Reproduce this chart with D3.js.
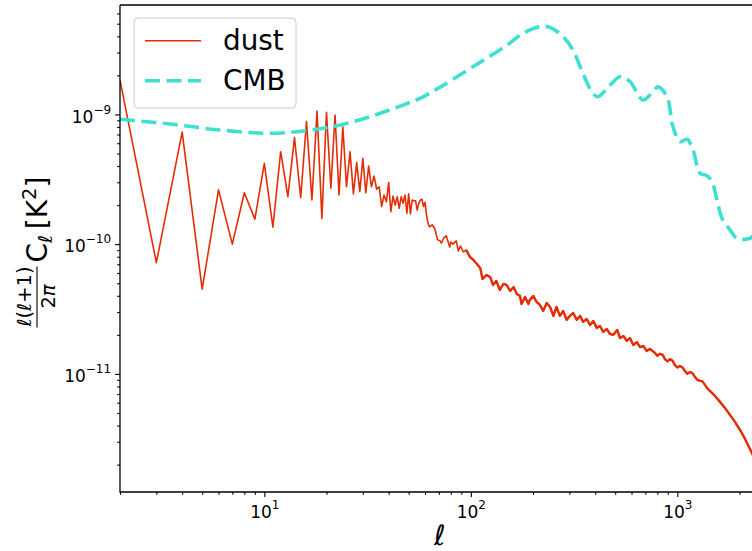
<!DOCTYPE html>
<html><head><meta charset="utf-8">
<script src="https://cdn.jsdelivr.net/npm/d3@7"></script>
<style>
body{margin:0;background:#fff;}
svg{display:block;font-family:"DejaVu Sans",sans-serif;}
</style></head>
<body><svg id="c" width="752" height="551"></svg>
<script>
// ---------- data ----------
const dustEll = [
  2,3,4,5,6,7,8,9,10,11,12,13,14,15,16,17,18,19,20,
  21,22,23,24,25,26,27,28,29,30,31,32,33,34,35,36,37,38,39,40,
  41,42,43,44,45,46,47,48,49,50,51,52,53,54,55,56,57,58,59,60,
  61,62,63,65,67,69,71,72,74,76,79,80,82,85,87,89,92,95,99,
  103,107,111,114,119,124,128,133,138,144,149,155,161,167,173,176,183,190,193,
  201,208,216,224,233,242,251,260,270,280,291,302,313,326,338,350,364,378,392,
  407,422,438,455,472,490,512,528,548,569,590,612,636,660,684,711,737,
  780,800,824,850,871,895,921,945,974,1000,1030,1060,1089,1120,1151,1185,1218,
  1250,1288,1320,1361,1400,1439,1522,1609,1701,1799,1902,2011,2126,2248,2377
];
const dustPower = [
  1.84e-9,7.2e-11,7.3e-10,4.5e-11,2.62e-10,1.0e-10,2.49e-10,1.56e-10,4.2e-10,1.35e-10,5.16e-10,2.32e-10,6.62e-10,2.28e-10,8.8e-10,2.19e-10,1.06e-9,1.58e-10,1.04e-9,
  2.7e-10,9.9e-10,2.39e-10,8.0e-10,2.77e-10,5.16e-10,2.44e-10,4.25e-10,2.54e-10,4.59e-10,2.49e-10,4.0e-10,2.77e-10,3.35e-10,2.65e-10,2.77e-10,1.95e-10,2.39e-10,2.12e-10,2.98e-10,
  1.78e-10,2.35e-10,2.0e-10,2.32e-10,1.89e-10,2.32e-10,2.07e-10,2.39e-10,1.73e-10,2.44e-10,1.71e-10,2.19e-10,2.16e-10,2.16e-10,1.83e-10,2.07e-10,2.19e-10,2.22e-10,1.95e-10,2.1e-10,
  1.68e-10,1.46e-10,1.36e-10,1.41e-10,1.31e-10,1.08e-10,1.06e-10,1.02e-10,1.12e-10,1.16e-10,9.5e-11,1.04e-10,1.0e-10,1.06e-10,8.86e-11,9.68e-11,8.71e-11,9.02e-11,7.97e-11,
  7.55e-11,7.04e-11,6.56e-11,5.39e-11,5.79e-11,5.59e-11,4.85e-11,5.21e-11,4.44e-11,4.94e-11,4.85e-11,4.36e-11,4.68e-11,4.13e-11,3.99e-11,3.46e-11,3.92e-11,3.46e-11,3.72e-11,
  3.99e-11,3.59e-11,3.40e-11,3.06e-11,3.52e-11,3.28e-11,2.80e-11,3.28e-11,2.80e-11,3.06e-11,2.61e-11,2.80e-11,2.95e-11,2.61e-11,2.80e-11,2.52e-11,2.65e-11,2.38e-11,2.56e-11,
  2.26e-11,2.34e-11,2.11e-11,2.22e-11,2.03e-11,2.00e-11,2.18e-11,1.89e-11,1.96e-11,1.80e-11,1.89e-11,1.67e-11,1.76e-11,1.61e-11,1.64e-11,1.50e-11,1.56e-11,
  1.45e-11,1.38e-11,1.43e-11,1.40e-11,1.30e-11,1.25e-11,1.30e-11,1.27e-11,1.17e-11,1.12e-11,1.15e-11,1.12e-11,1.05e-11,1.00e-11,1.036e-11,1.01e-11,9.48e-12,
  9.0e-12,8.83e-12,8.8e-12,8.23e-12,7.7e-12,7.40e-12,6.77e-12,6.09e-12,5.47e-12,4.83e-12,4.27e-12,3.70e-12,3.16e-12,2.64e-12,2.18e-12
];
const cmbEll = [2,3.49,6.10,10.65,15.39,22.48,32.5,46.9,56.7,70.9,102.4,149.7,178.9,216.2,241.7,279.5,312.4,349.2,390.5,412.9,
  472,527.8,589.8,682,762.3,806,891,952.8,1030,1114,1191,1288,1392,1472,1556,1646,1799,1945,2248,2377];
const cmbPower = [9.17e-10,8.44e-10,7.58e-10,7.15e-10,7.45e-10,8.18e-10,9.60e-10,1.18e-9,1.33e-9,1.62e-9,2.33e-9,3.42e-9,4.21e-9,4.74e-9,4.69e-9,3.97e-9,3.13e-9,2.07e-9,1.45e-9,1.37e-9,
  1.68e-9,1.95e-9,1.79e-9,1.29e-9,1.50e-9,1.63e-9,1.37e-9,8.04e-10,6.16e-10,6.43e-10,5.32e-10,3.52e-10,3.37e-10,3.03e-10,2.19e-10,1.58e-10,1.29e-10,1.11e-10,1.11e-10,1.2e-10];
const seriesNames = ["dust","CMB"];
const xMajorTicks = [10,100,1000];
const xMajorExp = ["1","2","3"];
const yMajorTicks = [1e-9,1e-10,1e-11];
const yMajorExp = ["\u22129","\u221210","\u221211"];

// ---------- layout ----------
const L=120, R=759.5, T=5, B=492;
const svg = d3.select("#c");
const x = d3.scaleLog().domain([2,2500]).range([L,R]);
const y = d3.scaleLog().domain([1.23e-12,6.97e-9]).range([B,T]);
const dustColor = "#e32d05", cmbColor = "#40e0d0";

svg.append("defs").append("clipPath").attr("id","clip")
  .append("rect").attr("x",L).attr("y",T).attr("width",R-L).attr("height",B-T);

const plot = svg.append("g").attr("clip-path","url(#clip)");
const dust = dustEll.map((l,i)=>[l,dustPower[i]]);
const cmb = cmbEll.map((l,i)=>[l,cmbPower[i]]);
const dustLine = d3.line().x(d=>x(d[0])).y(d=>y(d[1]));

plot.append("path").datum(dust)
  .attr("d", dustLine)
  .attr("fill","none").attr("stroke",dustColor).attr("stroke-width",1.6)
  .attr("stroke-linejoin","round");
// dense high-ell part of the spectrum reads as a thicker noisy band
plot.append("path").datum(dust.filter(d=>d[0]>=95))
  .attr("d", dustLine)
  .attr("fill","none").attr("stroke",dustColor).attr("stroke-width",2.4)
  .attr("stroke-linejoin","round");
plot.append("path").datum(cmb)
  .attr("d", d3.line().curve(d3.curveCatmullRom.alpha(0.5)).x(d=>x(d[0])).y(d=>y(d[1])))
  .attr("fill","none").attr("stroke",cmbColor).attr("stroke-width",3.6)
  .attr("stroke-dasharray","15,6.5");

// minor tick values
function minors(lo,hi){const out=[];for(let e=Math.floor(Math.log10(lo));e<=Math.ceil(Math.log10(hi));e++){for(let m=2;m<=9;m++){const v=m*Math.pow(10,e);if(v>=lo&&v<=hi)out.push(v);}}return out;}

const axX = svg.append("g").attr("transform",`translate(0,${B})`);
axX.call(d3.axisBottom(x).tickValues(minors(2,2500)).tickSize(2.8).tickFormat(""));
axX.call(g=>g.select(".domain").remove());
const axXM = svg.append("g").attr("transform",`translate(0,${B})`);
axXM.call(d3.axisBottom(x).tickValues(xMajorTicks).tickSize(4.9).tickSizeOuter(0).tickPadding(4).tickFormat(()=>""));
axXM.select(".domain").remove();
axXM.selectAll(".tick text").each(function(d,i){
  const t=d3.select(this).attr("font-size",17).attr("font-family","DejaVu Sans").attr("fill","#000").attr("dy","1em");
  t.append("tspan").text("10");
  t.append("tspan").attr("font-size",12).attr("dy","-0.75em").text(xMajorExp[i]);
});

const axY = svg.append("g").attr("transform",`translate(${L},0)`);
axY.call(d3.axisLeft(y).tickValues(minors(1.23e-12,6.97e-9)).tickSize(2.8).tickFormat(""));
axY.select(".domain").remove();
const axYM = svg.append("g").attr("transform",`translate(${L},0)`);
axYM.call(d3.axisLeft(y).tickValues(yMajorTicks).tickSize(4.9).tickPadding(4).tickFormat(()=>""));
axYM.select(".domain").remove();
axYM.selectAll(".tick text").each(function(d,i){
  const t=d3.select(this).attr("font-size",17).attr("font-family","DejaVu Sans").attr("fill","#000").attr("dy","0.45em");
  t.append("tspan").text("10");
  t.append("tspan").attr("font-size",12).attr("dy","-0.75em").text(yMajorExp[i]);
});
svg.selectAll(".tick line").attr("stroke","#000").attr("stroke-width",1.1);

// spines
svg.append("path").attr("d",`M${L},${T}V${B}H${R}`).attr("fill","none").attr("stroke","#000").attr("stroke-width",1.3);
svg.append("path").attr("d",`M${L},${T}H${R}V${B}`).attr("fill","none").attr("stroke","#000").attr("stroke-width",1.3);

// x label
svg.append("text").attr("x",(L+R)/2).attr("y",545).attr("text-anchor","middle")
  .attr("font-size",28).attr("font-style","italic").text("\u2113");

// y label (rotated)
const yl = svg.append("g").attr("transform","translate(37,249.5) rotate(-90)");
const num = yl.append("text").attr("x",-47).attr("y",-6).attr("text-anchor","middle").attr("font-size",19.5);
num.append("tspan").attr("font-style","italic").text("\u2113");
num.append("tspan").text("(");
num.append("tspan").attr("font-style","italic").text("\u2113");
num.append("tspan").text("+1)");
yl.append("line").attr("x1",-78).attr("x2",-17).attr("y1",0).attr("y2",0).attr("stroke","#000").attr("stroke-width",1.1);
const den = yl.append("text").attr("x",-47).attr("y",18).attr("text-anchor","middle").attr("font-size",19.5);
den.append("tspan").text("2");
den.append("tspan").attr("font-style","italic").text("\u03c0");
const main = yl.append("text").attr("x",-13).attr("y",10).attr("font-size",28);
main.append("tspan").text("C");
main.append("tspan").attr("font-size",19.5).attr("font-style","italic").attr("dy",5).text("\u2113");
main.append("tspan").attr("dy",-5).text("\u2009[K");
main.append("tspan").attr("font-size",19.5).attr("dy",-11).text("2");
main.append("tspan").attr("dy",11).text("]");

// legend
const lg = svg.append("g");
lg.append("rect").attr("x",134).attr("y",18).attr("width",162).attr("height",90).attr("rx",4)
  .attr("fill","#fff").attr("fill-opacity",0.8).attr("stroke","#cccccc").attr("stroke-width",1);
const legendStyles = [{c:dustColor,w:1.6,dash:null},{c:cmbColor,w:3.6,dash:"15,6.5"}];
seriesNames.forEach((n,i)=>{
  const yy = 40.7 + i*40;
  const ln = lg.append("line").attr("x1",145).attr("x2",201).attr("y1",yy).attr("y2",yy)
    .attr("stroke",legendStyles[i].c).attr("stroke-width",legendStyles[i].w);
  if(legendStyles[i].dash) ln.attr("stroke-dasharray",legendStyles[i].dash);
  lg.append("text").attr("x",223).attr("y",yy+9.7).attr("font-size",27.8).text(n);
});
</script></body></html>
